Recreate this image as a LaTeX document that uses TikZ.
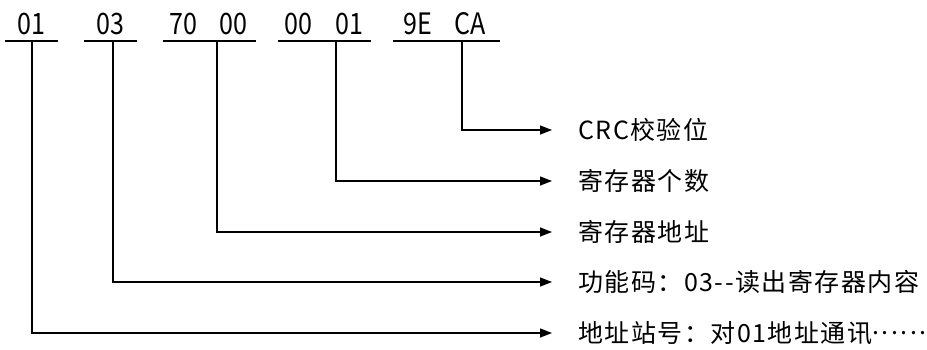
\documentclass[tikz,border=0pt]{standalone}
\usepackage{fontspec}
\setmainfont{Noto Sans CJK SC}
\newfontfamily\lblfont[LetterSpace=6]{Noto Sans CJK SC}
\newfontfamily\topfont{Noto Sans CJK SC}
\usetikzlibrary{arrows.meta}
\newcommand{\midellipsis}{\raisebox{0.33em}{.\kern0.1em.\kern0.1em.\kern0.1em.\kern0.1em.\kern0.1em.}}
\begin{document}
\begin{tikzpicture}[x=1pt,y=-1pt,
  byte/.style={inner sep=0pt,anchor=base,font=\topfont\fontsize{29.5}{30}\selectfont},
  lbl/.style={inner sep=0pt,anchor=west,font=\lblfont\fontsize{25}{28}\selectfont},
  uline/.style={line width=2pt},
  conn/.style={line width=1.4pt,-{Triangle[length=12pt,width=9pt]}}]
\useasboundingbox (0,0) rectangle (927,349);
% top bytes
\node[byte] (b1) at (31,34.5) {\scalebox{0.85}[1]{01}};
\node[byte] (b2) at (110,34.5) {\scalebox{0.85}[1]{03}};
\node[byte] (b3a) at (183,34.5) {\scalebox{0.85}[1]{70}};
\node[byte] (b3b) at (233,34.5) {\scalebox{0.85}[1]{00}};
\node[byte] (b4a) at (298,34.5) {\scalebox{0.85}[1]{00}};
\node[byte] (b4b) at (349,34.5) {\scalebox{0.85}[1]{01}};
\node[byte] (b5a) at (418,34.5) {\scalebox{0.85}[1]{9E}};
\node[byte] (b5b) at (470,34.5) {\scalebox{0.85}[1]{CA}};
% underlines
\draw[uline] (5,41) -- (58,41);
\draw[uline] (84,41) -- (137,41);
\draw[uline] (163,41) -- (256,41);
\draw[uline] (278,41) -- (371,41);
\draw[uline] (393,41) -- (500,41);
\coordinate (u1) at (32,41);
\coordinate (u2) at (113,41);
\coordinate (u3) at (217,41);
\coordinate (u4) at (336,41);
\coordinate (u5) at (462,41);
% labels
\node[lbl] (l5) at (578,130) {CRC校验位};
\node[lbl] (l4) at (578,181) {寄存器个数};
\node[lbl] (l3) at (578,232) {寄存器地址};
\node[lbl] (l2) at (578,282) {功能码：03--读出寄存器内容};
\node[lbl] (l1) at (578,333) {地址站号：对01地址通讯\midellipsis};
\foreach \i in {1,...,5}{
  \coordinate (t\i) at ([xshift=-26pt]l\i.west);
  \draw[conn] (u\i) |- (t\i);
}
\end{tikzpicture}
\end{document}
